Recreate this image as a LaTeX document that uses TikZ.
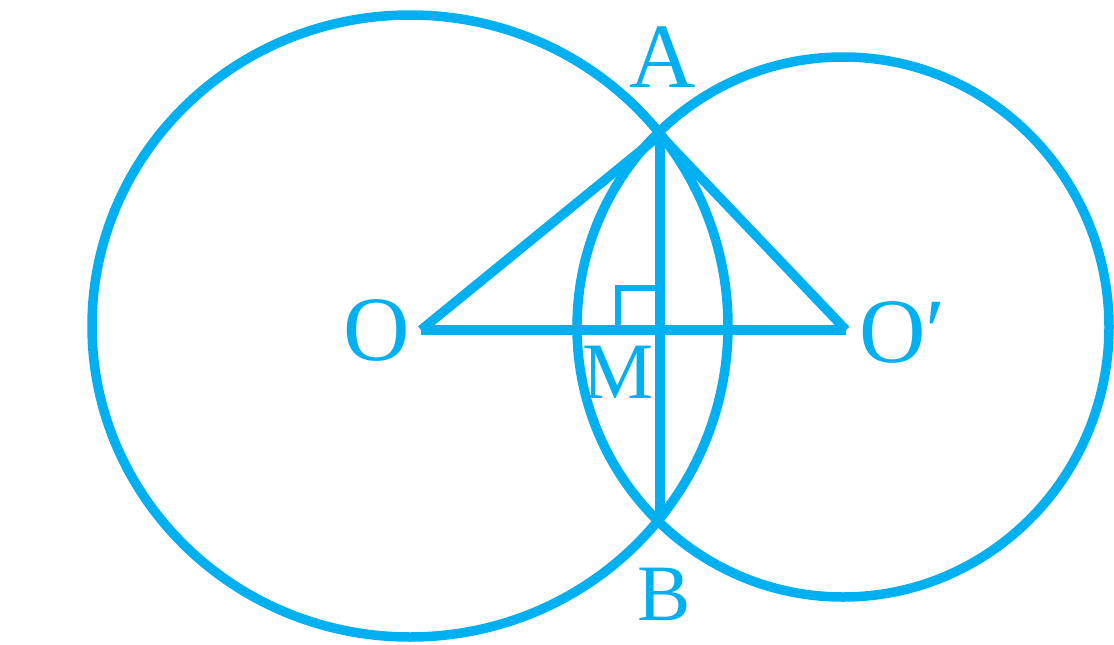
\documentclass[tikz,border=0pt]{standalone}
\usepackage{fontspec}
\setmainfont{Liberation Serif}
\usetikzlibrary{calc}
\definecolor{figcyan}{RGB}{0,176,240}

\begin{document}
\begin{tikzpicture}[
  x=1pt, y=-1pt,
  rim/.style={draw=figcyan, line width=9.5pt},
  seg/.style={draw=figcyan, line width=9.5pt},
  sqmark/.style={draw=figcyan, line width=6pt},
  lbl/.style={text=figcyan, inner sep=0pt, anchor=base, font=\fontsize{92}{92}\selectfont},
  lbls/.style={lbl, font=\fontsize{80}{80}\selectfont},
]
\useasboundingbox (0,0) rectangle (1114,645);

% === the two circles ===
\coordinate (c1) at (410,326);
\coordinate (c2) at (843,327);
\coordinate (O)  at (421,330);
\coordinate (O') at (846,330);
\coordinate (A)  at (660,135);
\coordinate (B)  at (660,520);
\coordinate (M)  at (660,331);

\draw[rim] (c1) ellipse[x radius=318, y radius=311];
\draw[rim] (c2) ellipse[x radius=266, y radius=270];

% === triangle and common chord ===
\draw[seg] (O) -- (A) -- (O');
\draw[seg] (O) -- (O');
\draw[seg] (A) -- (B);
\draw[sqmark] ($(M)+(-42,0)$) |- ($(M)+(0,-43)$);

% === labels ===
\node[lbl]  (lA)  at (663,87)  {A};
\node[lbl]  (lO)  at (377,360) {O};
\node[lbl, anchor=base west] (lO') at (859,362) {O′};
\node[lbls] (lM)  at (618,398) {M};
\node[lbls] (lB)  at (664,620) {B};
\end{tikzpicture}
\end{document}
